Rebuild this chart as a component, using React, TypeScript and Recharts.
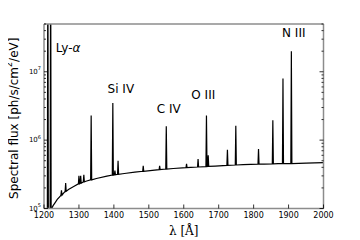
import React from 'react';
import { ComposedChart, Line, XAxis, YAxis, ReferenceDot, Label } from 'recharts';

// Continuum samples (wavelength in Å, flux in ph/s/cm²/eV)
const continuumWavelength = [1222, 1226, 1231, 1238, 1246, 1256, 1270, 1285, 1320, 1350, 1380, 1430, 1460, 1510, 1570, 1620, 1690, 1770, 1830, 1870, 1950, 2000];
const continuumFlux = [1.0e5, 1.1e5, 1.2e5, 1.36e5, 1.5e5, 1.68e5, 1.9e5, 2.1e5, 2.5e5, 2.75e5, 2.98e5, 3.25e5, 3.4e5, 3.62e5, 3.85e5, 4.0e5, 4.18e5, 4.38e5, 4.47e5, 4.52e5, 4.6e5, 4.68e5];

// Emission lines
const lineWavelength = [1211, 1219, 1250, 1262, 1300, 1305, 1314, 1335, 1397, 1403, 1412, 1484, 1531, 1550, 1608, 1641, 1665, 1670, 1725, 1749, 1814, 1855, 1884, 1908];
const linePeakFlux = [1e9, 1e9, 1.85e5, 2.35e5, 3.0e5, 3.0e5, 3.1e5, 2.3e6, 3.5e6, 3.6e5, 5.0e5, 4.2e5, 4.2e5, 1.6e6, 4.5e5, 5.3e5, 2.3e6, 6.0e5, 7.2e5, 1.62e6, 7.4e5, 1.95e6, 8.0e6, 2.0e7];
const lineBaseFlux = [5e4, 5e4, 1.57e5, 1.78e5, 2.3e5, 2.35e5, 2.45e5, 2.62e5, 3.08e5, 3.12e5, 3.17e5, 3.5e5, 3.7e5, 3.78e5, 3.97e5, 4.05e5, 4.1e5, 4.12e5, 4.28e5, 4.33e5, 4.45e5, 4.5e5, 4.53e5, 4.55e5];

// Annotations (text, anchor wavelength, anchor flux)
const annotationText = ['Ly-α', 'Si IV', 'C IV', 'O III', 'N III'];
const annotationWavelength = [1269, 1420, 1557, 1656, 1915];
const annotationFlux = [2.22e7, 5.66e6, 2.88e6, 4.62e6, 3.65e7];

const xTicks = [1200, 1300, 1400, 1500, 1600, 1700, 1800, 1900, 2000];
const yTicks = [1e5, 2e5, 3e5, 4e5, 5e5, 6e5, 7e5, 8e5, 9e5, 1e6, 2e6, 3e6, 4e6, 5e6, 6e6, 7e6, 8e6, 9e6, 1e7, 2e7, 3e7, 4e7, 5e7];

const LINE_HALF_WIDTH = 1.5;
const SPINE = '#8c8c8c';
const FONT = '"DejaVu Sans", sans-serif';

const spectrum = [
  ...continuumWavelength.map((wl, i) => ({ wl, flux: continuumFlux[i] })),
  ...lineWavelength.flatMap((wl, i) => [
    { wl: wl - LINE_HALF_WIDTH, flux: lineBaseFlux[i] },
    { wl, flux: linePeakFlux[i] },
    { wl: wl + LINE_HALF_WIDTH, flux: lineBaseFlux[i] },
  ]),
].sort((a, b) => a.wl - b.wl);

const isMajor = (v: number) => Math.abs(Math.log10(v) - Math.round(Math.log10(v))) < 1e-6;

const BottomTick = (p: any) => (
  <g>
    <line x1={p.x} x2={p.x} y1={p.y} y2={p.y - 4} stroke="#000" strokeWidth={0.8} />
    <text x={p.x} y={p.y + 9.5} textAnchor="middle" fontSize={8} fontFamily={FONT} fill="#000">
      {p.payload.value}
    </text>
  </g>
);

const TopTick = (p: any) => (
  <line x1={p.x} x2={p.x} y1={p.y} y2={p.y + 4} stroke="#000" strokeWidth={0.8} />
);

const LeftTick = (p: any) => {
  const v = p.payload.value;
  const major = isMajor(v);
  return (
    <g>
      <line x1={p.x} x2={p.x + (major ? 4 : 2)} y1={p.y} y2={p.y} stroke="#000" strokeWidth={0.8} />
      {major && (
        <text x={p.x - 3} y={p.y + 2} textAnchor="end" fontSize={7} fontFamily={FONT} fill="#000">
          10<tspan dy={-3.5} fontSize={5}>{Math.round(Math.log10(v))}</tspan>
        </text>
      )}
    </g>
  );
};

const RightTick = (p: any) => {
  const major = isMajor(p.payload.value);
  return <line x1={p.x} x2={p.x - (major ? 4 : 2)} y1={p.y} y2={p.y} stroke="#000" strokeWidth={0.8} />;
};

export default function App() {
  return (
    <div style={{ width: 360, height: 240, margin: '-8px 0 0 -8px' }}>
      <ComposedChart
        width={360}
        height={240}
        data={spectrum}
        margin={{ top: 23, right: 35.5, bottom: 30.5, left: 43 }}
      >
        <XAxis
          xAxisId="b"
          dataKey="wl"
          type="number"
          domain={[1200, 2000]}
          allowDataOverflow
          ticks={xTicks}
          interval={0}
          height={1}
          tickSize={0}
          tickMargin={0}
          tickLine={false}
          axisLine={{ stroke: SPINE, strokeWidth: 1.5 }}
          tick={<BottomTick />}
        >
          <Label
            content={(props: any) => {
              const vb = props.viewBox;
              return (
                <text x={vb.x + vb.width / 2} y={vb.y + 26} textAnchor="middle" fontSize={12} fontFamily='"DejaVu Serif", serif' fill="#000">
                  λ [Å]
                </text>
              );
            }}
          />
        </XAxis>
        <XAxis
          xAxisId="t"
          orientation="top"
          type="number"
          domain={[1200, 2000]}
          allowDataOverflow
          ticks={xTicks}
          interval={0}
          height={1}
          tickSize={0}
          tickMargin={0}
          tickLine={false}
          axisLine={{ stroke: SPINE, strokeWidth: 1.5 }}
          tick={<TopTick />}
        />
        <YAxis
          yAxisId="l"
          type="number"
          scale="log"
          domain={[1e5, 5e7]}
          allowDataOverflow
          ticks={yTicks}
          interval={0}
          width={1}
          tickSize={0}
          tickMargin={0}
          tickLine={false}
          axisLine={{ stroke: SPINE, strokeWidth: 1.5 }}
          tick={<LeftTick />}
        >
          <Label
            content={(props: any) => {
              const vb = props.viewBox;
              const cx = vb.x + vb.width - 30.5;
              const cy = vb.y + vb.height / 2 + 2;
              return (
                <text x={cx} y={cy} transform={`rotate(-90 ${cx} ${cy})`} textAnchor="middle" dominantBaseline="central" fontSize={12} fontFamily={FONT} fill="#000">
                  Spectral flux [ph/s/cm<tspan dy={-5} fontSize={8}>2</tspan><tspan dy={5}>/eV]</tspan>
                </text>
              );
            }}
          />
        </YAxis>
        <YAxis
          yAxisId="r"
          orientation="right"
          type="number"
          scale="log"
          domain={[1e5, 5e7]}
          allowDataOverflow
          ticks={yTicks}
          interval={0}
          width={1}
          tickSize={0}
          tickMargin={0}
          tickLine={false}
          axisLine={{ stroke: SPINE, strokeWidth: 1.5 }}
          tick={<RightTick />}
        />
        <Line
          xAxisId="b"
          yAxisId="l"
          dataKey="flux"
          type="linear"
          dot={false}
          stroke="#000"
          strokeWidth={1.2}
          isAnimationActive={false}
        />
        {annotationText.map((t, i) => (
          <ReferenceDot
            key={t}
            xAxisId="b"
            yAxisId="l"
            x={annotationWavelength[i]}
            y={annotationFlux[i]}
            r={1}
            ifOverflow="visible"
            shape={(p: any) => (
              <text x={p.cx} y={p.cy} textAnchor="middle" dominantBaseline="central" fontSize={12} fontFamily={FONT} fill="#000">
                {t === 'Ly-α' ? (
                  <>
                    Ly-<tspan fontStyle="italic">α</tspan>
                  </>
                ) : (
                  t
                )}
              </text>
            )}
          />
        ))}
      </ComposedChart>
    </div>
  );
}
